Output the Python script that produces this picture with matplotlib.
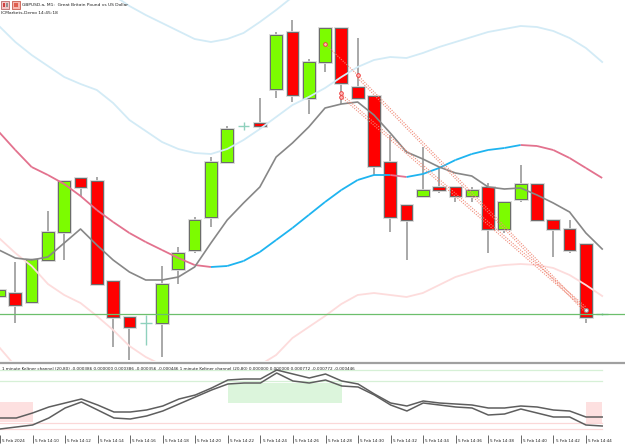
import matplotlib
matplotlib.use("Agg")
import matplotlib.pyplot as plt
import matplotlib.transforms as mtransforms
import matplotlib.patheffects as pe
from matplotlib.patches import Rectangle
from matplotlib.collections import LineCollection
import numpy as np

# GBPUSD.a M1 bars, 5 Feb 2024 14:08 .. 14:45
opens = [1.25604, 1.25607, 1.25598, 1.25640, 1.25668, 1.25722, 1.25719, 1.25619, 1.25583, 1.25577,
         1.25577, 1.25631, 1.25650, 1.25683, 1.25738, 1.25774, 1.25777, 1.25811, 1.25868, 1.25802,
         1.25838, 1.25872, 1.25813, 1.25804, 1.25738, 1.25695, 1.25704, 1.25713, 1.25713, 1.25704,
         1.25713, 1.25671, 1.25701, 1.25716, 1.25680, 1.25671, 1.25656, 1.25586]
highs = [1.25611, 1.25638, 1.25641, 1.25689, 1.25719, 1.25722, 1.25723, 1.25619, 1.25583, 1.25585,
         1.25634, 1.25653, 1.25683, 1.25743, 1.25774, 1.25778, 1.25802, 1.25868, 1.25880, 1.25841,
         1.25872, 1.25872, 1.25862, 1.25804, 1.25765, 1.25695, 1.25753, 1.25733, 1.25713, 1.25713,
         1.25717, 1.25698, 1.25735, 1.25716, 1.25680, 1.25680, 1.25656, 1.25587]
lows = [1.25603, 1.25577, 1.25598, 1.25640, 1.25640, 1.25703, 1.25616, 1.25553, 1.25540, 1.25555,
        1.25543, 1.25616, 1.25647, 1.25673, 1.25738, 1.25770, 1.25771, 1.25802, 1.25798, 1.25786,
        1.25828, 1.25796, 1.25802, 1.25725, 1.25668, 1.25640, 1.25704, 1.25707, 1.25698, 1.25698,
        1.25647, 1.25667, 1.25698, 1.25680, 1.25643, 1.25647, 1.25577, 1.25585]
closes = [1.25610, 1.25595, 1.25641, 1.25668, 1.25719, 1.25713, 1.25616, 1.25583, 1.25573, 1.25577,
          1.25616, 1.25647, 1.25680, 1.25738, 1.25771, 1.25774, 1.25774, 1.25865, 1.25805, 1.25838,
          1.25872, 1.25817, 1.25802, 1.25734, 1.25683, 1.25680, 1.25710, 1.25710, 1.25704, 1.25710,
          1.25671, 1.25698, 1.25716, 1.25680, 1.25671, 1.25650, 1.25583, 1.25586]

# moving average (gray)
ma = [1.25650, 1.25642, 1.25640, 1.25643, 1.25657, 1.25671, 1.25655, 1.25640, 1.25628, 1.25620,
      1.25620, 1.25623, 1.25633, 1.25657, 1.25680, 1.25697, 1.25713, 1.25743, 1.25757, 1.25773,
      1.25792, 1.25796, 1.25798, 1.25785, 1.25767, 1.25748, 1.25741, 1.25733, 1.25727, 1.25724,
      1.25713, 1.25711, 1.25712, 1.25705, 1.25697, 1.25688, 1.25667, 1.25651]

# keltner channel: middle + inner / outer bands
kc_mid = [1.25768, 1.25750, 1.25733, 1.25725, 1.25716, 1.25704, 1.25690, 1.25678, 1.25667, 1.25658,
          1.25650, 1.25642, 1.25635, 1.25633, 1.25634, 1.25639, 1.25648, 1.25660, 1.25672, 1.25685,
          1.25698, 1.25710, 1.25720, 1.25725, 1.25725, 1.25723, 1.25726, 1.25732, 1.25740, 1.25746,
          1.25750, 1.25752, 1.25755, 1.25754, 1.25750, 1.25742, 1.25732, 1.25722]
kc_up1 = [1.25874, 1.25858, 1.25845, 1.25834, 1.25823, 1.25816, 1.25810, 1.25797, 1.25780, 1.25769,
          1.25758, 1.25751, 1.25747, 1.25746, 1.25751, 1.25760, 1.25771, 1.25783, 1.25795, 1.25803,
          1.25812, 1.25823, 1.25833, 1.25840, 1.25843, 1.25842, 1.25847, 1.25853, 1.25858, 1.25863,
          1.25868, 1.25871, 1.25874, 1.25873, 1.25869, 1.25862, 1.25852, 1.25838]
kc_dn1 = [1.25662, 1.25647, 1.25634, 1.25616, 1.25605, 1.25597, 1.25584, 1.25570, 1.25554, 1.25543,
          1.25535, 1.25528, 1.25522, 1.25520, 1.25522, 1.25527, 1.25535, 1.25545, 1.25562, 1.25573,
          1.25584, 1.25596, 1.25605, 1.25607, 1.25605, 1.25603, 1.25607, 1.25615, 1.25623, 1.25628,
          1.25633, 1.25635, 1.25636, 1.25635, 1.25632, 1.25625, 1.25615, 1.25604]
kc_up2 = [1.25995, 1.25975, 1.25958, 1.25950, 1.25942, 1.25930, 1.25918, 1.25905, 1.25894, 1.25885,
          1.25877, 1.25869, 1.25861, 1.25858, 1.25861, 1.25867, 1.25878, 1.25890, 1.25903, 1.25916,
          1.25930, 1.25942, 1.25953, 1.25958, 1.25958, 1.25957, 1.25960, 1.25967, 1.25975, 1.25982,
          1.25987, 1.25990, 1.25993, 1.25992, 1.25987, 1.25978, 1.25967, 1.25956]
kc_dn2 = [1.25553, 1.25534, 1.25515, 1.25502, 1.25492, 1.25480, 1.25467, 1.25454, 1.25442, 1.25432,
          1.25424, 1.25417, 1.25410, 1.25408, 1.25409, 1.25414, 1.25423, 1.25435, 1.25447, 1.25460,
          1.25473, 1.25485, 1.25495, 1.25500, 1.25500, 1.25498, 1.25501, 1.25507, 1.25515, 1.25521,
          1.25525, 1.25527, 1.25530, 1.25529, 1.25525, 1.25517, 1.25507, 1.25497]

# trend lines (bar index, price)
trend_a_bars = [20, 22, 36]
trend_a_prices = [1.25856, 1.25825, 1.25590]
trend_b_bars = [21, 36]
trend_b_prices = [1.25803, 1.25590]
marks_bars = [20, 22, 21, 21]
marks_prices = [1.25856, 1.25825, 1.25807, 1.25803]

# sub window: 1 minute Keltner channel oscillator
osc_a = [-0.00018, -0.00018, -0.00013, -0.00007, -0.00003, 0.00001, -0.00005, -0.00012, -0.00012, -0.00010,
         -0.00006, 0.00001, 0.00005, 0.00012, 0.00020, 0.00021, 0.00021, 0.00030, 0.00026, 0.00022,
         0.00026, 0.00019, 0.00016, 0.00006, -0.00003, -0.00006, -0.00001, -0.00003, -0.00004, -0.00005,
         -0.00008, -0.00008, -0.00006, -0.00007, -0.00010, -0.00011, -0.00017, -0.00017]
osc_b = [-0.00029, -0.00027, -0.00025, -0.00018, -0.00008, -0.00002, -0.00010, -0.00018, -0.00019, -0.00016,
         -0.00011, -0.00004, 0.00003, 0.00010, 0.00016, 0.00017, 0.00017, 0.00027, 0.00019, 0.00017,
         0.00020, 0.00014, 0.00013, 0.00005, -0.00005, -0.00011, -0.00003, -0.00005, -0.00007, -0.00008,
         -0.00015, -0.00014, -0.00009, -0.00013, -0.00017, -0.00017, -0.00025, -0.00026]
osc_up_levels = [0.00030, 0.00019]
osc_dn_levels = [-0.00023, -0.00029]
green_zone = (14, 21, -0.00003, 0.00017)
red_zones = [(0, 2, -0.00022, -0.00002), (36, 37, -0.00023, -0.00002)]

tick_bars = [0, 2, 4, 6, 8, 10, 12, 14, 16, 18, 20, 22, 24, 26, 28, 30, 32, 34, 36]
tick_labels = ['5 Feb 2024', '5 Feb 14:10', '5 Feb 14:12', '5 Feb 14:14', '5 Feb 14:16',
               '5 Feb 14:18', '5 Feb 14:20', '5 Feb 14:22', '5 Feb 14:24', '5 Feb 14:26',
               '5 Feb 14:28', '5 Feb 14:30', '5 Feb 14:32', '5 Feb 14:34', '5 Feb 14:36',
               '5 Feb 14:38', '5 Feb 14:40', '5 Feb 14:42', '5 Feb 14:44']

sub_text = ("1 minute Keltner channel (20,80) -0.000386 0.000000 0.000386 -0.000356 -0.000446 "
            "1 minute Keltner channel (20,80) 0.000000 0.000000 0.000772 -0.000772 -0.000446")

W, H = 625, 447
fig = plt.figure(figsize=(W / 100, H / 100), dpi=100)
fig.patch.set_facecolor('white')
plt.rcParams['font.family'] = 'DejaVu Sans'

XL = (0.061, 38.40)
bars = np.arange(len(opens))

# ---- main window
ax = fig.add_axes([0, 1 - 361 / H, 1, 361 / H])
ax.set_xlim(*XL)
ax.set_ylim(1.25539, 1.25900)
ax.set_axis_off()

bw = 0.36
halo = [pe.withStroke(linewidth=2.0, foreground='#d6d6d6')]
for i in bars:
    o, h, l, c = opens[i], highs[i], lows[i], closes[i]
    if o == c:
        ax.vlines(i, l, h, color='#8fd1bd', lw=1.0, zorder=3)
        ax.hlines(o, i - bw, i + bw, color='#8fd1bd', lw=1.0, zorder=3)
        continue
    ax.vlines(i, l, h, color='#9a9a9a', lw=1.2, zorder=3)
    col = '#7cfc00' if c > o else '#ff0000'
    r = Rectangle((i - bw, min(o, c)), 2 * bw, abs(c - o), facecolor=col,
                  edgecolor='#6a6a6a', lw=0.7, zorder=4, path_effects=halo)
    ax.add_patch(r)

ax.plot(bars, kc_up2, color='#d3ebf6', lw=1.3, zorder=5)
ax.plot(bars, kc_up1, color='#d3ebf6', lw=1.3, zorder=5)
ax.plot(bars, kc_dn1, color='#fddcdc', lw=1.3, zorder=5)
ax.plot(bars, kc_dn2, color='#fddcdc', lw=1.3, zorder=5)

# middle line: blue when rising, pink when falling
segs, cols = [], []
for i in range(len(kc_mid) - 1):
    segs.append([(bars[i], kc_mid[i]), (bars[i + 1], kc_mid[i + 1])])
    cols.append('#1eb4f0' if kc_mid[i + 1] >= kc_mid[i] else '#e3728e')
ax.add_collection(LineCollection(segs, colors=cols, lw=1.3, zorder=6))

ax.plot(bars, ma, color='#878787', lw=1.2, zorder=6)

ax.axhline(closes[-1], color='#6cbf6c', lw=0.9, zorder=7)

for off in (0.0, 0.00003):
    ax.plot(trend_a_bars[1:], np.array(trend_a_prices[1:]) - off, color='#f08a78',
            lw=0.8, ls=(0, (1, 1.2)), zorder=7)
    ax.plot(trend_b_bars, np.array(trend_b_prices) + off, color='#f08a78',
            lw=0.8, ls=(0, (1, 1.2)), zorder=7)
ax.plot(trend_a_bars[:2], trend_a_prices[:2], color='#f08a78', lw=0.8, ls=(0, (1, 1.2)), zorder=7)
ax.scatter(marks_bars, marks_prices, s=7, facecolor='#ffb8b8', edgecolor='#ee3333',
           lw=0.6, zorder=8)
ax.scatter([36], [trend_b_prices[-1]], s=8, facecolor='#f0f0f0', edgecolor='#8a8a8a',
           lw=0.7, zorder=8)

# ---- sub window
ax2 = fig.add_axes([0, 1 - 435 / H, 1, (435 - 364) / H])
ax2.set_xlim(*XL)
ax2.set_ylim(-0.00035, 0.00036)
ax2.patch.set_alpha(0)
for s in ax2.spines.values():
    s.set_visible(False)
ax2.set_yticks([])
ax2.set_xticks(tick_bars)
ax2.tick_params(axis='x', direction='out', length=5.5, width=0.6, colors='#505050',
                labelbottom=False)

x0, x1, y0, y1 = green_zone
ax2.add_patch(Rectangle((x0, y0), x1 - x0, y1 - y0, facecolor='#dcf5dc', lw=0, zorder=1))
for x0, x1, y0, y1 in red_zones:
    ax2.add_patch(Rectangle((x0 - 0.1 if x0 == 0 else x0, y0), x1 - x0 + (0.1 if x0 == 0 else 0),
                            y1 - y0, facecolor='#fde0e0', lw=0, zorder=1))
for lv in osc_up_levels:
    ax2.plot([bars[0], bars[-1]], [lv, lv], color='#d6f0d6', lw=0.9, zorder=2)
for lv in osc_dn_levels:
    ax2.plot([bars[0], bars[-1]], [lv, lv], color='#fbd8d8', lw=0.9, zorder=2)
ax2.plot(bars, osc_a, color='#5e5e5e', lw=1.1, zorder=3)
ax2.plot(bars, osc_b, color='#5e5e5e', lw=1.1, zorder=3)

lab_tr = mtransforms.blended_transform_factory(ax2.transData, fig.transFigure)
for b, t in zip(tick_bars, tick_labels):
    ax2.text(b + 0.13, 1 - 441 / H, t, transform=lab_tr, fontsize=3.0, va='center',
             ha='left', color='#202020', clip_on=False)

# ---- overlay: header, separator, sub-window title
ov = fig.add_axes([0, 0, 1, 1])
ov.set_xlim(0, W)
ov.set_ylim(H, 0)
ov.set_axis_off()
ov.patch.set_alpha(0)
ov.plot([0, W], [362.5, 362.5], color='#a0a0a0', lw=1.6)
ov.text(22, 5, 'GBPUSD.a, M1:  Great Britain Pound vs US Dollar', fontsize=3.2,
        va='center', ha='left', color='#202020')
ov.text(1, 13.5, 'ICMarkets-Demo 14:45:18', fontsize=3.2, va='center', ha='left',
        color='#202020')
ov.text(2, 369, sub_text, fontsize=2.95, va='center', ha='left', color='#202020')
# small toolbar icons
ov.add_patch(Rectangle((1, 1), 8, 8, facecolor='#f4c6c6', edgecolor='#b05050', lw=0.5))
ov.add_patch(Rectangle((3, 3), 2, 4, facecolor='#d04040', lw=0))
ov.add_patch(Rectangle((6, 3), 2, 4, facecolor='#909090', lw=0))
ov.add_patch(Rectangle((12, 1), 8, 8, facecolor='#f6b8b0', edgecolor='#c04030', lw=0.5))
ov.add_patch(Rectangle((14, 3), 4, 4, facecolor='#e06050', lw=0))

fig.savefig('out.png', dpi=100)
